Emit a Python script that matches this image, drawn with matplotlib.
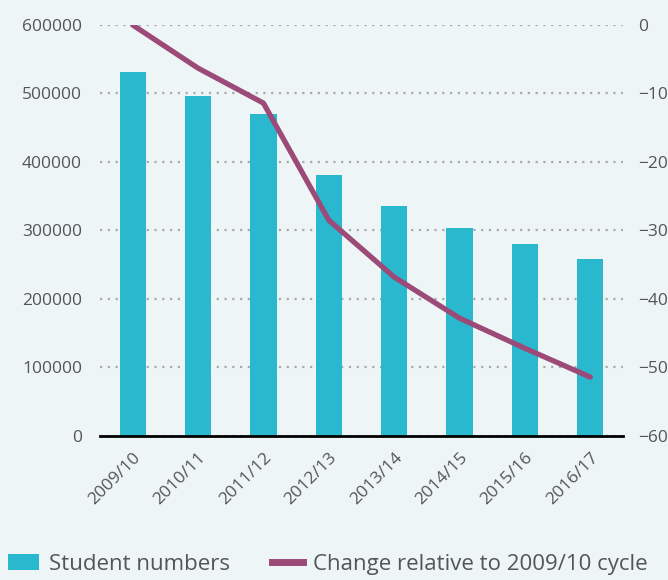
import numpy as np
import matplotlib
matplotlib.use('Agg')
matplotlib.rcParams['font.family'] = ['Open Sans', 'DejaVu Sans']
import matplotlib.pyplot as plt
from matplotlib.patches import Patch
from matplotlib.lines import Line2D

# data
cycles = ['2009/10', '2010/11', '2011/12', '2012/13', '2013/14', '2014/15', '2015/16', '2016/17']
students = [532000, 497000, 470000, 381000, 336000, 304000, 280000, 258000]
change = [0, -6.3, -11.4, -28.5, -36.8, -42.8, -47.2, -51.4]

bg = '#edf5f7'
bar_col = '#29b8ce'
line_col = '#9c4a78'
txt = '#555555'

fig = plt.figure(figsize=(6.68, 5.8), dpi=100, facecolor=bg)
ax1 = fig.add_axes([0.1497, 0.2483, 0.7829, 0.7086])
ax1.set_facecolor(bg)
x = np.arange(len(cycles))
ax1.bar(x, students, width=0.4, color=bar_col, zorder=2)
ax1.set_xlim(-0.5, len(cycles) - 0.5)
ax1.set_ylim(0, 600000)
ax1.set_yticks(np.arange(0, 600001, 100000))
ax1.yaxis.grid(True, linestyle=(0, (1, 2.5)), color='#aaaaaa', linewidth=1.6, zorder=0)
ax1.axhline(0, color='black', linewidth=2, zorder=3, clip_on=False)
for s in ax1.spines.values():
    s.set_visible(False)
ax1.tick_params(axis='both', length=0, colors=txt, labelsize=12.5)
ax1.tick_params(axis='y', pad=13)
ax1.set_xticks(x)
ax1.set_xticklabels(cycles, rotation=45, ha='right', rotation_mode='anchor')
ax1.tick_params(axis='x', pad=10)

ax2 = ax1.twinx()
ax2.plot(x, change, color=line_col, linewidth=3.8, solid_joinstyle='round',
         solid_capstyle='round', zorder=4)
ax2.set_ylim(-60, 0)
ax2.set_yticks(np.arange(-60, 1, 10))
for s in ax2.spines.values():
    s.set_visible(False)
ax2.tick_params(axis='y', length=0, colors=txt, labelsize=12.5, pad=11)

handles = [Patch(facecolor=bar_col, label='Student numbers'),
           Line2D([0], [0], color=line_col, linewidth=5, label='Change relative to 2009/10 cycle')]
fig.legend(handles=handles, loc='lower left', bbox_to_anchor=(-0.018, -0.026), ncol=2,
           frameon=False, fontsize=16, labelcolor=txt, handlelength=1.4,
           handleheight=0.75, columnspacing=1.9, handletextpad=0.45)

fig.savefig('out.png', dpi=100, facecolor=bg)
